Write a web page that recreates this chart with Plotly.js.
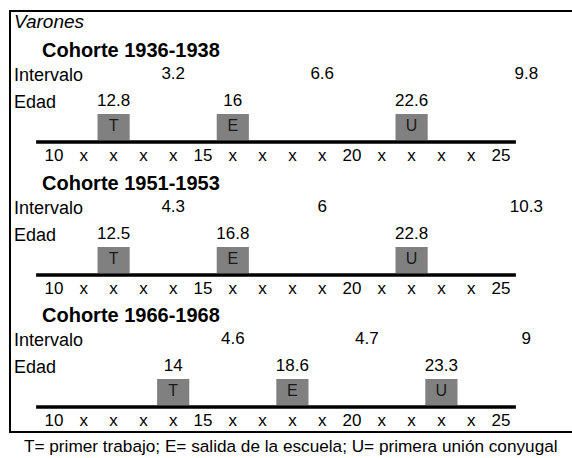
<!DOCTYPE html>
<html>
<head>
<meta charset="utf-8">
<script src="https://cdn.plot.ly/plotly-3.0.1.min.js"></script>
<style>html,body{margin:0;padding:0;background:#fff;}#chart{width:572px;height:458px;}</style>
</head>
<body>
<div id="chart"></div>
<script>
// ---- data ----
const groupTitle = 'Varones';
const cohortNames = ['Cohorte 1936-1938', 'Cohorte 1951-1953', 'Cohorte 1966-1968'];
const eventLetters = ['T', 'E', 'U'];
const agesC1 = [12.8, 16, 22.6];
const agesC2 = [12.5, 16.8, 22.8];
const agesC3 = [14, 18.6, 23.3];
const boxAgeC1 = [12, 16, 22];
const boxAgeC2 = [12, 16, 22];
const boxAgeC3 = [14, 18, 23];
const intervalsC1 = [3.2, 6.6, 9.8];
const intervalsC2 = [4.3, 6, 10.3];
const intervalsC3 = [4.6, 4.7, 9];
const tickVals = [10, 11, 12, 13, 14, 15, 16, 17, 18, 19, 20, 21, 22, 23, 24, 25];
const tickLabels = ['10', 'x', 'x', 'x', 'x', '15', 'x', 'x', 'x', 'x', '20', 'x', 'x', 'x', 'x', '25'];
const rowLabels = ['Intervalo', 'Edad'];
const caption = 'T= primer trabajo; E= salida de la escuela; U= primera unión conyugal';

// ---- layout helpers ----
const W = 572, H = 458;
const FONT = 'Arial, "Liberation Sans", sans-serif';
const pxPerYear = 29.8, x10px = 54;
const xMin = 10 - x10px / pxPerYear;
const xMax = xMin + W / pxPerYear;
const px = p => p / W; // paper x from pixels
const lineY = [142, 275, 407];
const ages = [agesC1, agesC2, agesC3];
const boxAges = [boxAgeC1, boxAgeC2, boxAgeC3];
const intervals = [intervalsC1, intervalsC2, intervalsC3];
const totalCol = 25.85;

const traces = [];
const shapes = [];
const annotations = [];

// outer frame (open to the right): top, left, bottom edges
const frameLine = {color: '#000', width: 2};
shapes.push({type: 'line', xref: 'paper', yref: 'y', x0: px(10), x1: 1, y0: 11, y1: 11, line: frameLine});
shapes.push({type: 'line', xref: 'paper', yref: 'y', x0: px(10), x1: px(10), y0: 10, y1: 433, line: frameLine});
shapes.push({type: 'line', xref: 'paper', yref: 'y', x0: px(10), x1: 1, y0: 432, y1: 432, line: frameLine});

annotations.push({xref: 'paper', yref: 'y', x: px(12), y: 21.5, xanchor: 'left', yanchor: 'middle',
  text: '<i>' + groupTitle + '</i>', showarrow: false, font: {family: FONT, size: 19, color: '#000'}});

cohortNames.forEach((name, c) => {
  const ly = lineY[c];
  const bx = boxAges[c];
  // cohort title
  annotations.push({xref: 'paper', yref: 'y', x: px(40), y: ly - 92, xanchor: 'left', yanchor: 'middle',
    text: '<b>' + name + '</b>', showarrow: false, font: {family: FONT, size: 20, color: '#000'}});
  // row labels
  annotations.push({xref: 'paper', yref: 'y', x: px(12), y: ly - 67, xanchor: 'left', yanchor: 'middle',
    text: rowLabels[0], showarrow: false, font: {family: FONT, size: 18, color: '#000'}});
  annotations.push({xref: 'paper', yref: 'y', x: px(12), y: ly - 40, xanchor: 'left', yanchor: 'middle',
    text: rowLabels[1], showarrow: false, font: {family: FONT, size: 18, color: '#000'}});
  // timeline
  shapes.push({type: 'line', xref: 'x', yref: 'y', x0: tickVals[0] - 0.6, x1: tickVals[tickVals.length - 1] + 0.5,
    y0: ly, y1: ly, line: {color: '#000', width: 3.5}});
  // boxes
  bx.forEach(a => {
    shapes.push({type: 'rect', xref: 'x', yref: 'y', x0: a - 0.54, x1: a + 0.54, y0: ly - 28, y1: ly - 2,
      fillcolor: '#808080', line: {width: 0}, layer: 'below'});
  });
  // box letters
  traces.push({type: 'scatter', mode: 'text', x: bx, y: bx.map(() => ly - 15), text: eventLetters,
    textposition: 'middle center', textfont: {family: FONT, size: 16, color: '#1a1a1a'}, hoverinfo: 'skip'});
  // ages
  traces.push({type: 'scatter', mode: 'text', x: bx, y: bx.map(() => ly - 40), text: ages[c].map(String),
    textposition: 'middle center', textfont: {family: FONT, size: 17, color: '#000'}, hoverinfo: 'skip'});
  // intervals: between consecutive events, and total in last column
  const iv = intervals[c];
  const ivX = [(bx[0] + bx[1]) / 2, (bx[1] + bx[2]) / 2, totalCol];
  traces.push({type: 'scatter', mode: 'text', x: ivX, y: ivX.map(() => ly - 67), text: iv.map(String),
    textposition: 'middle center', textfont: {family: FONT, size: 17, color: '#000'}, hoverinfo: 'skip'});
  // tick labels
  traces.push({type: 'scatter', mode: 'text', x: tickVals, y: tickVals.map(() => ly + 15), text: tickLabels,
    textposition: 'middle center', textfont: {family: FONT, size: 17, color: '#000'}, hoverinfo: 'skip'});
});

annotations.push({xref: 'paper', yref: 'y', x: px(22), y: 445.5, xanchor: 'left', yanchor: 'middle',
  text: caption, showarrow: false, font: {family: FONT, size: 17.2, color: '#000'}});

const layout = {
  width: W, height: H,
  margin: {l: 0, r: 0, t: 0, b: 0},
  paper_bgcolor: '#fff', plot_bgcolor: '#fff',
  showlegend: false,
  xaxis: {range: [xMin, xMax], visible: false, fixedrange: true},
  yaxis: {range: [H, 0], visible: false, fixedrange: true},
  shapes: shapes,
  annotations: annotations
};

Plotly.newPlot('chart', traces, layout, {displayModeBar: false, staticPlot: true});
</script>
</body>
</html>
